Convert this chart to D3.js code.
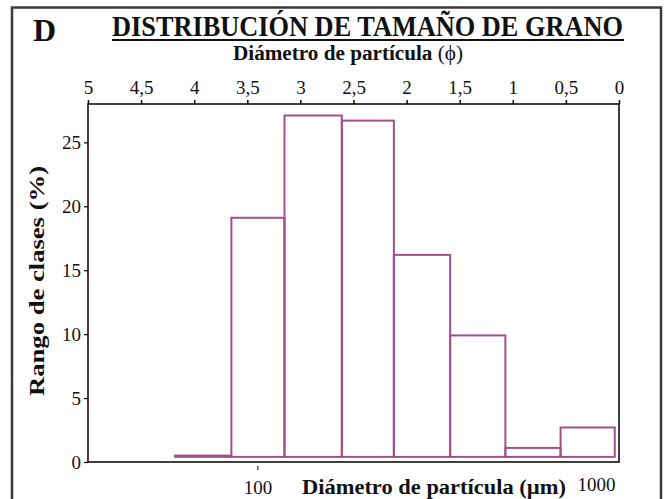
<!DOCTYPE html>
<html>
<head>
<meta charset="utf-8">
<script src="https://cdn.jsdelivr.net/npm/d3@7"></script>
<style>
    body { margin: 0; background: #fff; }
    svg text { font-family: 'Liberation Serif', 'Times New Roman', serif; fill: #111; }
</style>
</head>
<body>
<div id="chart"></div>
<script>
// Phi scale on top, µm scale at the bottom, class percentages as bars
const phiTicks = [5, 4.5, 4, 3.5, 3, 2.5, 2, 1.5, 1, 0.5, 0];
const pctTicks = [0, 5, 10, 15, 20, 25];
const umTicks = [100, 1000];

// bin edges read in phi units, left to right
const binEdgesPhi = [4.18, 3.65, 3.15, 2.61, 2.12, 1.59, 1.07, 0.55, 0.04];
const classPct = [0.5, 19.1, 27.1, 26.7, 16.2, 9.9, 1.1, 2.7];
const barFloor = 0.4; // bars sit a little above zero in the original

const width = 665;
const height = 499;
const plot = { left: 88, right: 619, top: 104, bottom: 462 };
const barColor = '#a64e8d';

const svg = d3.select('#chart').append('svg')
    .attr('width', width)
    .attr('height', height);

// outer frame (bottom edge runs off the page)
svg.append('rect')
    .attr('x', 12)
    .attr('y', 7.5)
    .attr('width', 649)
    .attr('height', 520)
    .style('fill', 'none')
    .style('stroke', '#3a3a3a')
    .style('stroke-width', 2.5);

const x = d3.scaleLinear().domain([5, 0]).range([plot.left, plot.right]);
const y = d3.scaleLinear().domain([0, 28]).range([plot.bottom, plot.top]);
const xUm = d3.scaleLog().domain([31.6, 1170]).range([plot.left, plot.right]);

const bins = classPct.map((v, i) => ({ from: binEdgesPhi[i], to: binEdgesPhi[i + 1], value: v }));

svg.append('g')
    .selectAll('rect')
    .data(bins)
    .enter().append('rect')
    .attr('x', d => x(d.from))
    .attr('width', d => x(d.to) - x(d.from))
    .attr('y', d => y(d.value))
    .attr('height', d => y(barFloor) - y(d.value))
    .style('fill', 'none')
    .style('stroke', barColor)
    .style('stroke-width', 2);

// plot box
svg.append('rect')
    .attr('x', plot.left)
    .attr('y', plot.top)
    .attr('width', plot.right - plot.left)
    .attr('height', plot.bottom - plot.top)
    .style('fill', 'none')
    .style('stroke', '#000')
    .style('stroke-width', 1.5);

// top axis in phi
const topAxis = svg.append('g')
    .attr('transform', `translate(0,${plot.top})`)
    .call(d3.axisTop(x).tickValues(phiTicks).tickSize(4).tickPadding(6)
        .tickFormat(d => String(d).replace('.', ',')));
topAxis.select('.domain').remove();
topAxis.selectAll('line').style('stroke', '#000').style('stroke-width', 1.5);
topAxis.selectAll('text').style('font-size', '19px');

// left axis
const leftAxis = svg.append('g')
    .attr('transform', `translate(${plot.left},0)`)
    .call(d3.axisLeft(y).tickValues(pctTicks).tickSize(4).tickPadding(3));
leftAxis.select('.domain').remove();
leftAxis.selectAll('line').style('stroke', '#000').style('stroke-width', 1.2);
leftAxis.selectAll('text').style('font-size', '19px');

// bottom axis in µm, only the 100 tick shows a mark
const bottomAxis = svg.append('g')
    .attr('transform', `translate(0,${plot.bottom + 4})`)
    .call(d3.axisBottom(xUm).tickValues(umTicks).tickSize(4).tickPadding(11)
        .tickFormat(d3.format('d')));
bottomAxis.select('.domain').remove();
bottomAxis.selectAll('line').style('stroke', '#000').style('opacity', d => (d === 100 ? 1 : 0));
bottomAxis.selectAll('text').style('font-size', '19px')
    .attr('dy', d => (d === 100 ? '0.71em' : '0.55em'));

// titles
svg.append('text')
    .attr('x', 33)
    .attr('y', 41)
    .style('font-size', '32px')
    .style('font-weight', 'bold')
    .text('D');

svg.append('text')
    .attr('x', 112)
    .attr('y', 36)
    .attr('textLength', 511)
    .attr('lengthAdjust', 'spacingAndGlyphs')
    .style('font-size', '29px')
    .style('font-weight', 'bold')
    .text('DISTRIBUCIÓN DE TAMAÑO DE GRANO');

svg.append('line')
    .attr('x1', 112)
    .attr('x2', 624)
    .attr('y1', 40)
    .attr('y2', 40)
    .style('stroke', '#111')
    .style('stroke-width', 2);

const sub = svg.append('text')
    .attr('x', 233)
    .attr('y', 60)
    .attr('textLength', 230)
    .attr('lengthAdjust', 'spacingAndGlyphs')
    .style('font-size', '20px');
sub.append('tspan').style('font-weight', 'bold').text('Diámetro de partícula');
sub.append('tspan').text(' (ϕ)');

svg.append('text')
    .attr('transform', `translate(44,${(plot.top + plot.bottom) / 2 - 2}) rotate(-90)`)
    .attr('textLength', 230)
    .attr('lengthAdjust', 'spacingAndGlyphs')
    .style('text-anchor', 'middle')
    .style('font-size', '20px')
    .style('font-weight', 'bold')
    .text('Rango de clases  (%)');

svg.append('text')
    .attr('x', 302)
    .attr('y', 494)
    .attr('textLength', 264)
    .attr('lengthAdjust', 'spacingAndGlyphs')
    .style('font-size', '20px')
    .style('font-weight', 'bold')
    .text('Diámetro de partícula (µm)');
</script>
</body>
</html>
